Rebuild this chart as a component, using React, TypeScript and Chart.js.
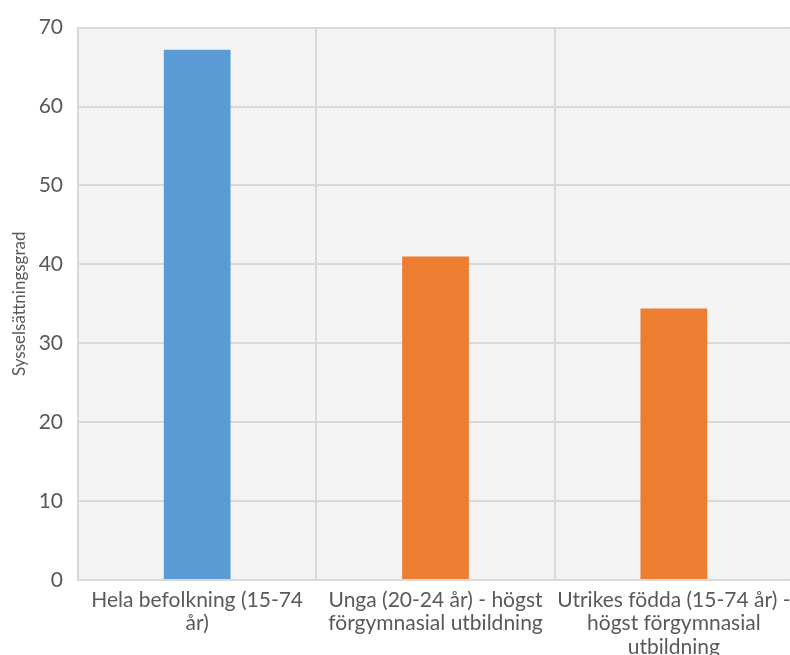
import React, { useEffect, useRef } from "react";
import { Chart, registerables } from "chart.js";

Chart.register(...registerables);

const categories: string[][] = [
  ["Hela befolkning (15-74", "år)"],
  ["Unga (20-24 år) - högst", "förgymnasial utbildning"],
  ["Utrikes födda (15-74 år) -", "högst förgymnasial", "utbildning"],
];
const values: number[] = [67.2, 41.0, 34.4];
const barColors: string[] = ["#5B9BD5", "#ED7D31", "#ED7D31"];
const yTitle = "Sysselsättningsgrad";
const yMin = 0;
const yMax = 70;
const yStep = 10;

function makePattern(ctx: CanvasRenderingContext2D): CanvasPattern | string {
  const c = document.createElement("canvas");
  c.width = 4;
  c.height = 4;
  const p = c.getContext("2d");
  if (!p) return "#f2f2f2";
  p.fillStyle = "#f6f6f6";
  p.fillRect(0, 0, 4, 4);
  p.fillStyle = "#e9e9e9";
  p.fillRect(0, 0, 1, 1);
  p.fillRect(2, 2, 1, 1);
  p.fillStyle = "#eeeeee";
  p.fillRect(1, 2, 1, 1);
  p.fillRect(3, 0, 1, 1);
  const pat = ctx.createPattern(c, "repeat");
  return pat || "#f2f2f2";
}

const bgPlugin = {
  id: "plotBg",
  beforeDraw(chart: any) {
    const { ctx, chartArea } = chart;
    if (!chartArea) return;
    ctx.save();
    ctx.fillStyle = makePattern(ctx);
    ctx.fillRect(
      chartArea.left,
      chartArea.top,
      chartArea.right - chartArea.left,
      chartArea.bottom - chartArea.top
    );
    ctx.restore();
  },
};

export default function App() {
  const ref = useRef<HTMLCanvasElement | null>(null);

  useEffect(() => {
    document.body.style.margin = "0";
    if (!ref.current) return;
    const font = "Lato, 'Open Sans', sans-serif";
    const chart = new Chart(ref.current, {
      type: "bar",
      data: {
        labels: categories,
        datasets: [
          {
            data: values,
            backgroundColor: barColors,
            barPercentage: 0.28,
            categoryPercentage: 1,
          },
        ],
      },
      plugins: [bgPlugin],
      options: {
        animation: false,
        responsive: false,
        maintainAspectRatio: false,
        layout: { padding: { top: 25, right: 0, left: 0, bottom: 0 } },
        plugins: {
          legend: { display: false },
          tooltip: { enabled: false },
        },
        scales: {
          x: {
            grid: {
              offset: true,
              color: "#d9d9d9",
              lineWidth: 2,
              drawTicks: false,
            },
            border: { color: "#d9d9d9", width: 2 },
            ticks: {
              color: "#595959",
              font: { family: font, size: 21, lineHeight: 1.1 },
              padding: 9,
              maxRotation: 0,
              autoSkip: false,
            },
            afterFit(scale: any) {
              scale.height = 75;
              scale.paddingLeft = 0;
              scale.paddingRight = 0;
            },
          },
          y: {
            min: yMin,
            max: yMax,
            ticks: {
              stepSize: yStep,
              color: "#595959",
              font: { family: font, size: 21 },
              padding: 15,
            },
            grid: {
              color: "#d9d9d9",
              lineWidth: 2,
              drawTicks: false,
            },
            border: { color: "#d9d9d9", width: 2 },
            title: {
              display: true,
              text: yTitle,
              color: "#595959",
              font: { family: font, size: 17 },
              padding: { top: 9, bottom: 0 },
            },
            afterFit(scale: any) {
              scale.width = 78;
            },
          },
        },
      },
    });
    return () => chart.destroy();
  }, []);

  return (
    <div style={{ position: "relative", width: 790, height: 655, overflow: "hidden" }}>
      <canvas ref={ref} width={793} height={655} style={{ width: 793, height: 655 }} />
    </div>
  );
}
